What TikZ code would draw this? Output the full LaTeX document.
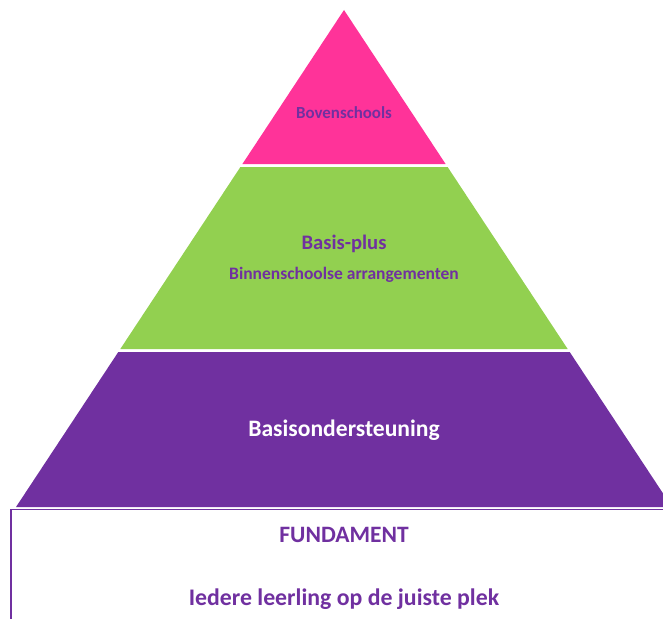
\documentclass[tikz,border=0pt]{standalone}
\usepackage{fontspec}
\setmainfont{Carlito}
\definecolor{pinkband}{HTML}{FF3399}
\definecolor{greenband}{HTML}{92D050}
\definecolor{purpleband}{HTML}{7030A0}
\begin{document}
\begin{tikzpicture}[x=1pt,y=-1pt,
  lbl/.style={anchor=base,inner sep=0pt,font=\bfseries},
  purpletxt/.style={lbl,text=purpleband},
  whitetxt/.style={lbl,text=white}]
\useasboundingbox (0,0) rectangle (663,618);
\begin{scope}
\clip (0,0) rectangle (663,618);
% pink top
\fill[pinkband] (344,10) -- (242.4,164) -- (445.6,164) -- cycle;
% green middle
\fill[greenband] (240.4,167) -- (447.6,167) -- (567.7,349) -- (120.3,349) -- cycle;
% purple bottom
\fill[purpleband] (118.3,352) -- (569.7,352) -- (672,507) -- (16,507) -- cycle;
% fundament frame
\coordinate (fl) at (11,509.5);
\coordinate (fr) at (670,509.5);
\coordinate (fb) at (11,625);
\draw[purpleband,line width=1.6pt] (fr) -- (fl) -- (fb);
\end{scope}
\node[purpletxt,font=\fontsize{16.9}{18}\selectfont\bfseries] (top) at (344,118) {Bovenschools};
\node[purpletxt,font=\fontsize{20.6}{22}\selectfont\bfseries] (mid1) at (344,249) {Basis-plus};
\node[purpletxt,font=\fontsize{17.5}{19}\selectfont\bfseries] (mid2) at (344,279) {Binnenschoolse arrangementen};
\node[whitetxt,font=\fontsize{23.6}{25}\selectfont\bfseries] (base) at (344,436) {Basisondersteuning};
\node[purpletxt,font=\fontsize{23.5}{25}\selectfont\bfseries] (fund) at (344,542) {FUNDAMENT};
\node[purpletxt,font=\fontsize{23.8}{25}\selectfont\bfseries] (iedere) at (344,605) {Iedere leerling op de juiste plek};
\end{tikzpicture}
\end{document}
